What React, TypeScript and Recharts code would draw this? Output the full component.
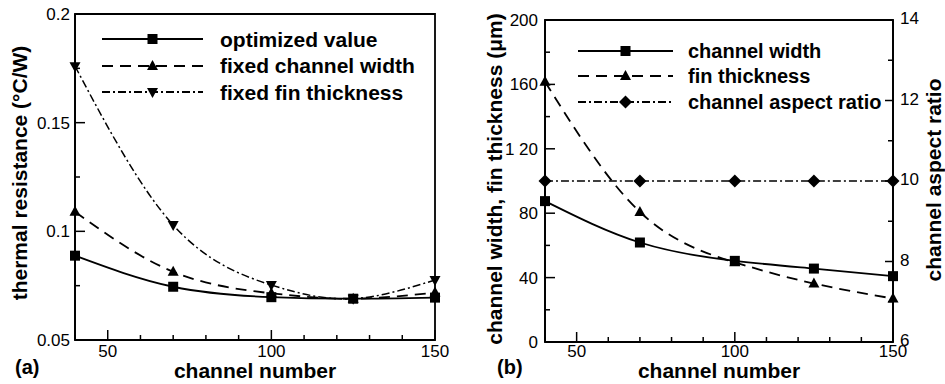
import { LineChart, Line, XAxis, YAxis, Legend, ReferenceArea } from "recharts";

const FONT = "'Liberation Sans', Arial, Helvetica, sans-serif";

// channel numbers sampled in both panels
const channelNumber = [40, 70, 100, 125, 150];

// (a) thermal resistance, °C/W
const optimizedValue = [0.0888, 0.0745, 0.0697, 0.069, 0.0695];
const fixedChannelWidth = [0.109, 0.0814, 0.0715, 0.069, 0.0718];
const fixedFinThickness = [0.176, 0.1029, 0.0753, 0.069, 0.0776];

// (b) geometry, µm and aspect ratio
const channelWidth = [87.5, 61.8, 50.4, 45.6, 40.9];
const finThickness = [161.7, 80.8, 49.5, 36.3, 27];
const aspectRatio = [10, 10, 10, 10, 10];

const xTicks = [40, 50, 60, 70, 80, 90, 100, 110, 120, 130, 140, 150];
const xTickLabels = ["", "50", "", "", "", "", "100", "", "", "", "", "150"];
const resistanceTicks = [0.05, 0.075, 0.1, 0.125, 0.15, 0.175, 0.2];
const resistanceTickLabels = ["0.05", "", "0.1", "", "0.15", "", "0.2"];
const widthTicks = [0, 20, 40, 60, 80, 100, 120, 140, 160, 180, 200];
const widthTickLabels = ["0", "", "40", "", "80", "", "1 20", "", "160", "", "200"];
const ratioTicks = [6, 7, 8, 9, 10, 11, 12, 13, 14];
const ratioTickLabels = ["6", "", "8", "", "10", "", "12", "", "14"];

const resistanceData = channelNumber.map((n, i) => ({
  n,
  optimized: optimizedValue[i],
  fixedWidth: fixedChannelWidth[i],
  fixedFin: fixedFinThickness[i],
}));

const geometryData = channelNumber.map((n, i) => ({
  n,
  width: channelWidth[i],
  fin: finThickness[i],
  ratio: aspectRatio[i],
}));

const DASHED = "11 7";
const DASH_DOT = "8 3 2 3";

// legend look, in drawing order
const seriesStyle: Record<string, { dash?: string; shape: string; order: number }> = {
  "optimized value": { shape: "square", order: 0 },
  "fixed channel width": { dash: DASHED, shape: "up", order: 1 },
  "fixed fin thickness": { dash: DASH_DOT, shape: "down", order: 2 },
  "channel width": { shape: "square", order: 0 },
  "fin thickness": { dash: DASHED, shape: "up", order: 1 },
  "channel aspect ratio": { dash: DASH_DOT, shape: "diamond", order: 2 },
};

const Marker = ({ cx, cy, shape }: { cx: number; cy: number; shape: string }) => {
  if (cx == null || cy == null) return null;
  if (shape === "square")
    return <rect x={cx - 5} y={cy - 5} width={10} height={10} fill="#000" />;
  if (shape === "up")
    return (
      <polygon
        points={`${cx},${cy - 6} ${cx + 5.5},${cy + 4} ${cx - 5.5},${cy + 4}`}
        fill="#000"
      />
    );
  if (shape === "down")
    return (
      <polygon
        points={`${cx},${cy + 6} ${cx + 5.5},${cy - 4} ${cx - 5.5},${cy - 4}`}
        fill="#000"
      />
    );
  return (
    <polygon
      points={`${cx},${cy - 6.5} ${cx + 6.5},${cy} ${cx},${cy + 6.5} ${cx - 6.5},${cy}`}
      fill="#000"
    />
  );
};

const dotOf = (shape: string) => (p: any) =>
  <Marker key={`${shape}-${p.index}`} cx={p.cx} cy={p.cy} shape={shape} />;

const tickText = { fontSize: 17, fontFamily: FONT, fill: "#000" };

// both panels put the x tick numbers on the same baseline
const BottomTick = ({ x, y, payload }: any) => {
  const label = xTickLabels[xTicks.indexOf(payload.value)];
  return (
    <g>
      <line x1={x} x2={x} y1={y} y2={y - (label ? 10 : 5)} stroke="#000" strokeWidth={1.5} />
      {label && (
        <text x={x} y={357} textAnchor="middle" {...tickText}>
          {label}
        </text>
      )}
    </g>
  );
};

const makeLeftTick = (ticks: number[], labels: string[], gap: number) => ({ x, y, payload }: any) => {
  const label = labels[ticks.indexOf(payload.value)];
  return (
    <g>
      <line x1={x} x2={x + (label ? 10 : 5)} y1={y} y2={y} stroke="#000" strokeWidth={1.5} />
      {label && (
        <text x={x - gap} y={y + 6} textAnchor="end" {...tickText}>
          {label}
        </text>
      )}
    </g>
  );
};

const RatioTick = ({ x, y, payload }: any) => {
  const label = ratioTickLabels[ratioTicks.indexOf(payload.value)];
  return (
    <g>
      <line x1={x} x2={x - (label ? 8 : 5)} y1={y} y2={y} stroke="#000" strokeWidth={1.5} />
      {label && (
        <text x={x + 7} y={y + 4} textAnchor="start" {...tickText}>
          {label}
        </text>
      )}
    </g>
  );
};

const ResistanceTick = makeLeftTick(resistanceTicks, resistanceTickLabels, 5);
const WidthTick = makeLeftTick(widthTicks, widthTickLabels, 7);

const titleText = { fontSize: 21, fontFamily: FONT, fontWeight: "bold" as const, fill: "#000" };

const verticalTitle = (x: number, y: number, text: string) => () =>
  (
    <text x={x} y={y} transform={`rotate(-90 ${x} ${y})`} textAnchor="middle" {...titleText}>
      {text}
    </text>
  );

const bottomTitle = (x: number, panel: string, panelX: number) => () =>
  (
    <g>
      <text x={x} y={378} textAnchor="middle" {...titleText}>
        channel number
      </text>
      <text x={panelX} y={374} {...titleText} fontSize={20}>
        {panel}
      </text>
    </g>
  );

const LegendRows = ({ payload, rowHeight, lineWidth, gap, fontSize }: any) => {
  const rows = [...(payload || [])].sort(
    (a: any, b: any) => seriesStyle[a.value].order - seriesStyle[b.value].order
  );
  return (
    <div>
      {rows.map((entry: any) => {
        const s = seriesStyle[entry.value];
        return (
          <div
            key={entry.value}
            style={{ display: "flex", alignItems: "center", height: rowHeight }}
          >
            <svg width={lineWidth} height={16} style={{ display: "block" }}>
              <line
                x1={0}
                x2={lineWidth}
                y1={8}
                y2={8}
                stroke="#000"
                strokeWidth={1.8}
                strokeDasharray={s.dash}
              />
              <Marker cx={lineWidth / 2} cy={8} shape={s.shape} />
            </svg>
            <span
              style={{
                marginLeft: gap,
                fontFamily: FONT,
                fontWeight: "bold",
                fontSize,
                lineHeight: 1,
                whiteSpace: "nowrap",
                color: "#000",
              }}
            >
              {entry.value}
            </span>
          </div>
        );
      })}
    </div>
  );
};

const axisLine = { stroke: "#000", strokeWidth: 1.8 };

const ResistanceChart = () => (
  <LineChart
    width={470}
    height={384}
    data={resistanceData}
    margin={{ top: 14, right: 35, bottom: 0, left: 0 }}
    style={{ fontFamily: FONT }}
  >
    <XAxis
      dataKey="n"
      type="number"
      domain={[40, 150]}
      ticks={xTicks}
      interval={0}
      height={44}
      axisLine={axisLine}
      tickLine={false}
      tickSize={0}
      tickMargin={0}
      tick={BottomTick}
      label={bottomTitle(255, "(a)", 15)}
    />
    <YAxis
      type="number"
      domain={[0.05, 0.2]}
      ticks={resistanceTicks}
      interval={0}
      width={75}
      axisLine={axisLine}
      tickLine={false}
      tickSize={0}
      tickMargin={0}
      tick={ResistanceTick}
      label={verticalTitle(27, 173, "thermal resistance (°C/W)")}
    />
    <ReferenceArea
      x1={40}
      x2={150}
      y1={0.05}
      y2={0.2}
      fill="none"
      fillOpacity={0}
      stroke="#000"
      strokeWidth={1.8}
    />
    <Legend
      layout="vertical"
      align="center"
      verticalAlign="middle"
      wrapperStyle={{ left: 102, top: 26, width: "auto" }}
      content={(props: any) => (
        <LegendRows payload={props.payload} rowHeight={26.5} lineWidth={101} gap={17} fontSize={21} />
      )}
    />
    <Line
      type="natural"
      dataKey="optimized"
      name="optimized value"
      stroke="#000"
      strokeWidth={1.8}
      dot={dotOf("square")}
      activeDot={false}
      isAnimationActive={false}
    />
    <Line
      type="natural"
      dataKey="fixedWidth"
      name="fixed channel width"
      stroke="#000"
      strokeWidth={1.8}
      strokeDasharray={DASHED}
      dot={dotOf("up")}
      activeDot={false}
      isAnimationActive={false}
    />
    <Line
      type="natural"
      dataKey="fixedFin"
      name="fixed fin thickness"
      stroke="#000"
      strokeWidth={1.5}
      strokeDasharray={DASH_DOT}
      dot={dotOf("down")}
      activeDot={false}
      isAnimationActive={false}
    />
  </LineChart>
);

const GeometryChart = () => (
  <LineChart
    width={475}
    height={384}
    data={geometryData}
    margin={{ top: 20, right: 0, bottom: 0, left: 0 }}
    style={{ fontFamily: FONT }}
  >
    <XAxis
      dataKey="n"
      type="number"
      domain={[40, 150]}
      ticks={xTicks}
      interval={0}
      height={42}
      axisLine={axisLine}
      tickLine={false}
      tickSize={0}
      tickMargin={0}
      tick={BottomTick}
      label={bottomTitle(249, "(b)", 27)}
    />
    <YAxis
      yAxisId="left"
      type="number"
      domain={[0, 200]}
      ticks={widthTicks}
      interval={0}
      width={75}
      axisLine={axisLine}
      tickLine={false}
      tickSize={0}
      tickMargin={0}
      tick={WidthTick}
      label={verticalTitle(32, 179, "channel width, fin thickness (μm)")}
    />
    <YAxis
      yAxisId="right"
      orientation="right"
      type="number"
      domain={[6, 14]}
      ticks={ratioTicks}
      interval={0}
      width={52}
      axisLine={axisLine}
      tickLine={false}
      tickSize={0}
      tickMargin={0}
      tick={RatioTick}
      label={verticalTitle(471, 180, "channel aspect ratio")}
    />
    <ReferenceArea
      yAxisId="left"
      x1={40}
      x2={150}
      y1={0}
      y2={200}
      fill="none"
      fillOpacity={0}
      stroke="#000"
      strokeWidth={1.8}
    />
    <Legend
      layout="vertical"
      align="center"
      verticalAlign="middle"
      wrapperStyle={{ left: 108, top: 38, width: "auto" }}
      content={(props: any) => (
        <LegendRows payload={props.payload} rowHeight={25.5} lineWidth={95} gap={15} fontSize={20} />
      )}
    />
    <Line
      yAxisId="left"
      type="natural"
      dataKey="width"
      name="channel width"
      stroke="#000"
      strokeWidth={1.8}
      dot={dotOf("square")}
      activeDot={false}
      isAnimationActive={false}
    />
    <Line
      yAxisId="left"
      type="natural"
      dataKey="fin"
      name="fin thickness"
      stroke="#000"
      strokeWidth={1.8}
      strokeDasharray={DASHED}
      dot={dotOf("up")}
      activeDot={false}
      isAnimationActive={false}
    />
    <Line
      yAxisId="right"
      type="natural"
      dataKey="ratio"
      name="channel aspect ratio"
      stroke="#000"
      strokeWidth={1.5}
      strokeDasharray={DASH_DOT}
      dot={dotOf("diamond")}
      activeDot={false}
      isAnimationActive={false}
    />
  </LineChart>
);

export default function App() {
  return (
    <div
      style={{
        position: "absolute",
        left: 0,
        top: 0,
        width: 945,
        height: 384,
        background: "#fff",
      }}
    >
      <div style={{ position: "absolute", left: 0, top: 0 }}>
        <ResistanceChart />
      </div>
      <div style={{ position: "absolute", left: 470, top: 0 }}>
        <GeometryChart />
      </div>
    </div>
  );
}
